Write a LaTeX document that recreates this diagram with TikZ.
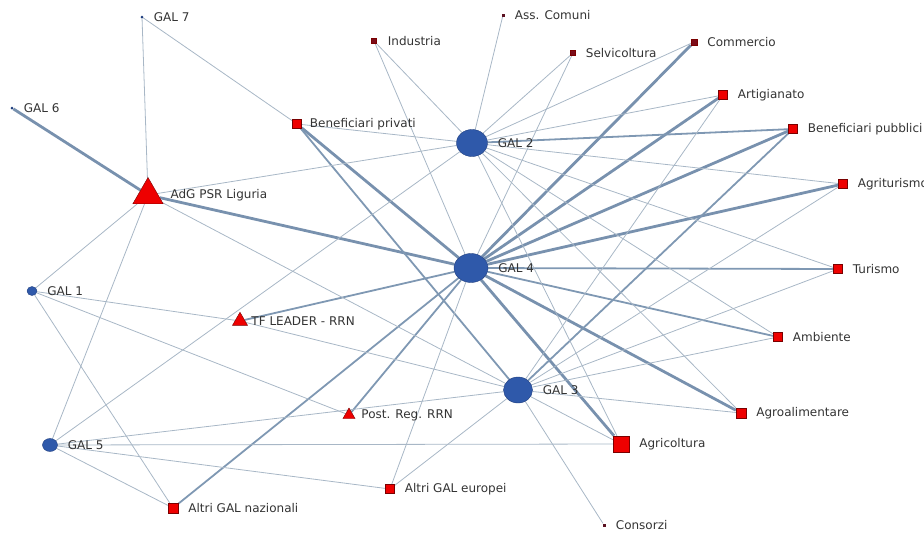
\documentclass[tikz,border=0pt]{standalone}
\usepackage{fontspec}
\setmainfont{DejaVu Sans}
\usetikzlibrary{shapes.geometric,backgrounds,positioning}

\definecolor{galblue}{HTML}{2F59AA}
\definecolor{galedge}{HTML}{1E3D7E}
\definecolor{attred}{HTML}{EE0000}
\definecolor{attedge}{HTML}{7A0000}
\definecolor{dotdark}{HTML}{5A1020}
\definecolor{lnkthin}{HTML}{A8B7C6}
\definecolor{lnkmid}{HTML}{7F98B3}
\definecolor{lnkthick}{HTML}{7891AE}
\definecolor{txtgray}{HTML}{333333}

\tikzset{
  gal/.style={ellipse, draw=galedge, fill=galblue, inner sep=0pt},
  att/.style={rectangle, draw=attedge, fill=attred, inner sep=0pt},
  ist/.style={regular polygon, regular polygon sides=3, draw=attedge, fill=attred, inner sep=0pt},
  tiny/.style={rectangle, fill=dotdark, inner sep=0pt, minimum size=3pt},
  lnk/.style={draw=lnkthin, line width=0.8pt},
  lnkm/.style={draw=lnkmid, line width=1.8pt},
  lnkt/.style={draw=lnkthick, line width=2.8pt},
  every label/.style={font=\fontsize{12}{14}\selectfont, text=txtgray, inner sep=0pt},
  label distance=10pt
}

\begin{document}
\begin{tikzpicture}[x=1pt,y=-1pt]
    \useasboundingbox (0,0) rectangle (924,536);

    % GAL
    \node[gal, minimum width=34pt, minimum height=29pt, label=0:GAL 4] (gal4) at (471,268) {};
    \node[gal, minimum width=31pt, minimum height=27pt, label=0:GAL 2] (gal2) at (472,143) {};
    \node[gal, minimum width=29pt, minimum height=26pt, label=0:GAL 3] (gal3) at (518,390) {};
    \node[gal, minimum width=15pt, minimum height=13pt, label=0:GAL 5] (gal5) at (50,445) {};
    \node[gal, minimum width=10pt, minimum height=9pt, label=0:GAL 1] (gal1) at (32,291) {};
    \node[gal, draw=none, fill=galedge, minimum size=3pt, label=0:GAL 7] (gal7) at (142,17) {};
    \node[gal, draw=none, fill=galedge, minimum size=3pt, label=0:GAL 6] (gal6) at (12,108) {};

    % istituzioni
    \node[ist, minimum size=35pt, label={[label distance=12pt]0:AdG PSR Liguria}] (adg) at (148,195) {};
    \node[ist, minimum size=17.5pt, label={[label distance=6pt]0:TF LEADER - RRN}] (tf) at (240,321) {};
    \node[ist, minimum size=14pt, label={[label distance=8pt]0:Post. Reg. RRN}] (postreg) at (349,415) {};

    % attori
    \node[att, minimum size=9pt, label={[label distance=8pt]0:Beneficiari privati}] (bpriv) at (297,124) {};
    \node[att, fill=dotdark!80!red, minimum size=5pt, label={[label distance=11pt]0:Industria}] (ind) at (374,41) {};
    \node[tiny, label=0:Ass. Comuni] (ass) at (503,15) {};
    \node[att, fill=dotdark!80!red, minimum size=5pt, label=0:Selvicoltura] (selv) at (573,53) {};
    \node[att, fill=dotdark!80!red, minimum size=6pt, label=0:Commercio] (comm) at (694,42) {};
    \node[att, minimum size=9pt, label=0:Artigianato] (art) at (723,95) {};
    \node[att, minimum size=9pt, label=0:Beneficiari pubblici] (bpub) at (793,129) {};
    \node[att, minimum size=9pt, label=0:Agriturismo] (agrit) at (843,184) {};
    \node[att, minimum size=9pt, label=0:Turismo] (tur) at (838,269) {};
    \node[att, minimum size=9pt, label=0:Ambiente] (amb) at (778,337) {};
    \node[att, minimum size=10pt, label=0:Agroalimentare] (agroal) at (741,413) {};
    \node[att, minimum size=16pt, label=0:Agricoltura] (agric) at (621,444) {};
    \node[tiny, label=0:Consorzi] (cons) at (604,525) {};
    \node[att, minimum size=9pt, label=0:Altri GAL europei] (altreu) at (390,489) {};
    \node[att, minimum size=10pt, label=0:Altri GAL nazionali] (altrnaz) at (173,508) {};

    \begin{scope}[on background layer]
    % legami forti
    \draw[lnkt] (adg) -- (gal6);
    \draw[lnkt] (adg) -- (gal4);
    \draw[lnkt] (bpriv) -- (gal4);
    \foreach \t in {comm,art,bpub,agrit,agroal,agric}
        \draw[lnkt] (gal4) -- (\t);
    % legami medi
    \foreach \t in {tur,amb,tf,postreg,altrnaz}
        \draw[lnkm] (gal4) -- (\t);
    \draw[lnkm] (bpriv) -- (gal3);
    \draw[lnkm] (gal3) -- (bpub);
    \draw[lnkm] (gal2) -- (bpub);
    % legami deboli
    \draw[lnk] (gal7) -- (adg);
    \draw[lnk] (gal7) -- (bpriv);
    \foreach \t in {gal2,gal3,gal1,gal5}
        \draw[lnk] (adg) -- (\t);
    \foreach \t in {tf,postreg,altrnaz}
        \draw[lnk] (gal1) -- (\t);
    \draw[lnk] (tf) -- (gal3);
    \foreach \t in {gal2,altrnaz,gal3,agric,altreu}
        \draw[lnk] (gal5) -- (\t);
    \draw[lnk] (altreu) -- (gal4);
    \draw[lnk] (altreu) -- (gal3);
    \foreach \s in {bpriv,ind,ass,selv,comm,art,agrit,tur,amb,agroal,agric}
        \draw[lnk] (\s) -- (gal2);
    \draw[lnk] (ind) -- (gal4);
    \draw[lnk] (selv) -- (gal4);
    \foreach \s in {art,agrit,tur,amb,agroal,agric,cons}
        \draw[lnk] (\s) -- (gal3);
    \end{scope}
\end{tikzpicture}
\end{document}
